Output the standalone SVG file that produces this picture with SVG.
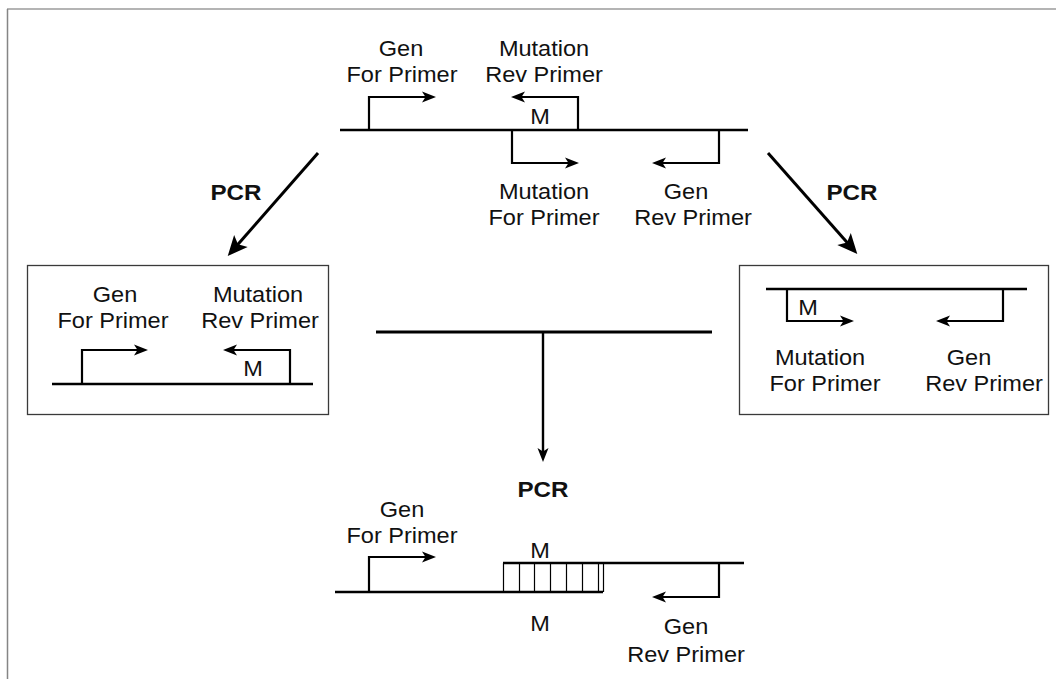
<svg xmlns="http://www.w3.org/2000/svg" width="1056" height="679" viewBox="0 0 1056 679">
<style>
.t{font-family:"Liberation Sans",Arial,sans-serif;font-size:22px;fill:#111;text-anchor:middle}
.b{font-family:"Liberation Sans",Arial,sans-serif;font-size:22px;font-weight:bold;fill:#111;text-anchor:middle}
.dna{stroke:#000;stroke-width:2.4;fill:none}
.pr{stroke:#000;stroke-width:2.2;fill:none;marker-end:url(#ah)}
.hatch{stroke:#000;stroke-width:1.2;fill:none}
.box{fill:#fff;stroke:#3a3a3a;stroke-width:1.3}
.big{stroke:#000;stroke-width:3;fill:none;marker-end:url(#bh)}
</style>
<defs>
<marker id="ah" markerUnits="userSpaceOnUse" markerWidth="18" markerHeight="14" refX="9" refY="7" orient="auto">
<path d="M1,1.5 L15,7 L1,12.5 L4.5,7 Z" fill="#000"/>
</marker>
<marker id="bh" markerUnits="userSpaceOnUse" markerWidth="24" markerHeight="20" refX="13" refY="10" orient="auto">
<path d="M1,1 L21,10 L1,19 L5.5,10 Z" fill="#000"/>
</marker>
</defs>
<rect width="1056" height="679" fill="#fff"/>
<line x1="7" y1="9" x2="1056" y2="9" stroke="#b4b4b4" stroke-width="2"/>
<line x1="7.5" y1="9" x2="7.5" y2="679" stroke="#858585" stroke-width="1.5"/>

<g id="top-template">
<line class="dna" x1="340" y1="130" x2="748" y2="130"/>
<path class="pr" d="M369,130 V97 H430"/>
<path class="pr" d="M578,130 V97 H517"/>
<path class="pr" d="M512,130 V163 H573"/>
<path class="pr" d="M719,130 V163 H658"/>
<text class="t" transform="translate(401,56) scale(1.07,1)">Gen</text>
<text class="t" transform="translate(402,82) scale(1.07,1)">For Primer</text>
<text class="t" transform="translate(544,56) scale(1.07,1)">Mutation</text>
<text class="t" transform="translate(544,82) scale(1.07,1)">Rev Primer</text>
<text class="t" transform="translate(540,124) scale(1.07,1)">M</text>
<text class="t" transform="translate(544,199) scale(1.07,1)">Mutation</text>
<text class="t" transform="translate(544,225) scale(1.07,1)">For Primer</text>
<text class="t" transform="translate(686,199) scale(1.07,1)">Gen</text>
<text class="t" transform="translate(693,225) scale(1.07,1)">Rev Primer</text>
</g>

<g id="left-product">
<rect class="box" x="27.5" y="265.5" width="301" height="149"/>
<line class="dna" x1="52" y1="384" x2="313" y2="384"/>
<path class="pr" d="M82,384 V350 H142"/>
<path class="pr" d="M290,384 V350 H229"/>
<text class="t" transform="translate(115,302) scale(1.07,1)">Gen</text>
<text class="t" transform="translate(113,328) scale(1.07,1)">For Primer</text>
<text class="t" transform="translate(258,302) scale(1.07,1)">Mutation</text>
<text class="t" transform="translate(260,328) scale(1.07,1)">Rev Primer</text>
<text class="t" transform="translate(253,376) scale(1.07,1)">M</text>
</g>

<g id="right-product">
<rect class="box" x="739.5" y="265.5" width="309" height="149"/>
<line class="dna" x1="766" y1="289" x2="1027" y2="289"/>
<path class="pr" d="M787,289 V321 H848"/>
<path class="pr" d="M1003,289 V321 H942"/>
<text class="t" transform="translate(808,315) scale(1.07,1)">M</text>
<text class="t" transform="translate(820,365) scale(1.07,1)">Mutation</text>
<text class="t" transform="translate(825,391) scale(1.07,1)">For Primer</text>
<text class="t" transform="translate(969,365) scale(1.07,1)">Gen</text>
<text class="t" transform="translate(984,391) scale(1.07,1)">Rev Primer</text>
</g>

<g id="final-product">
<line class="dna" x1="335" y1="592" x2="603" y2="592"/>
<line class="dna" x1="503" y1="563" x2="744" y2="563"/>
<path class="hatch" d="M503.5,563 V592 M519.5,563 V592 M534.5,563 V592 M550.5,563 V592 M566.5,563 V592 M582.5,563 V592 M598.5,563 V592 M603.5,563 V592"/>
<path class="pr" d="M369,592 V557 H430"/>
<path class="pr" d="M719,563 V597 H658"/>
<text class="t" transform="translate(402,517) scale(1.07,1)">Gen</text>
<text class="t" transform="translate(402,543) scale(1.07,1)">For Primer</text>
<text class="t" transform="translate(540,558) scale(1.07,1)">M</text>
<text class="t" transform="translate(540,631) scale(1.07,1)">M</text>
<text class="t" transform="translate(686,634) scale(1.07,1)">Gen</text>
<text class="t" transform="translate(686,662) scale(1.07,1)">Rev Primer</text>
</g>

<g id="connectors">
<line class="big" x1="318" y1="153" x2="233" y2="250"/>
<line class="big" x1="768" y1="153" x2="852" y2="248"/>
<line x1="376" y1="332" x2="712" y2="332" stroke="#000" stroke-width="3"/>
<line x1="543" y1="332" x2="543" y2="456" stroke="#000" stroke-width="2.4" marker-end="url(#ah)"/>
<text class="b" transform="translate(236,200) scale(1.1,1)">PCR</text>
<text class="b" transform="translate(852,200) scale(1.1,1)">PCR</text>
<text class="b" transform="translate(543,497) scale(1.1,1)">PCR</text>
</g>
</svg>
